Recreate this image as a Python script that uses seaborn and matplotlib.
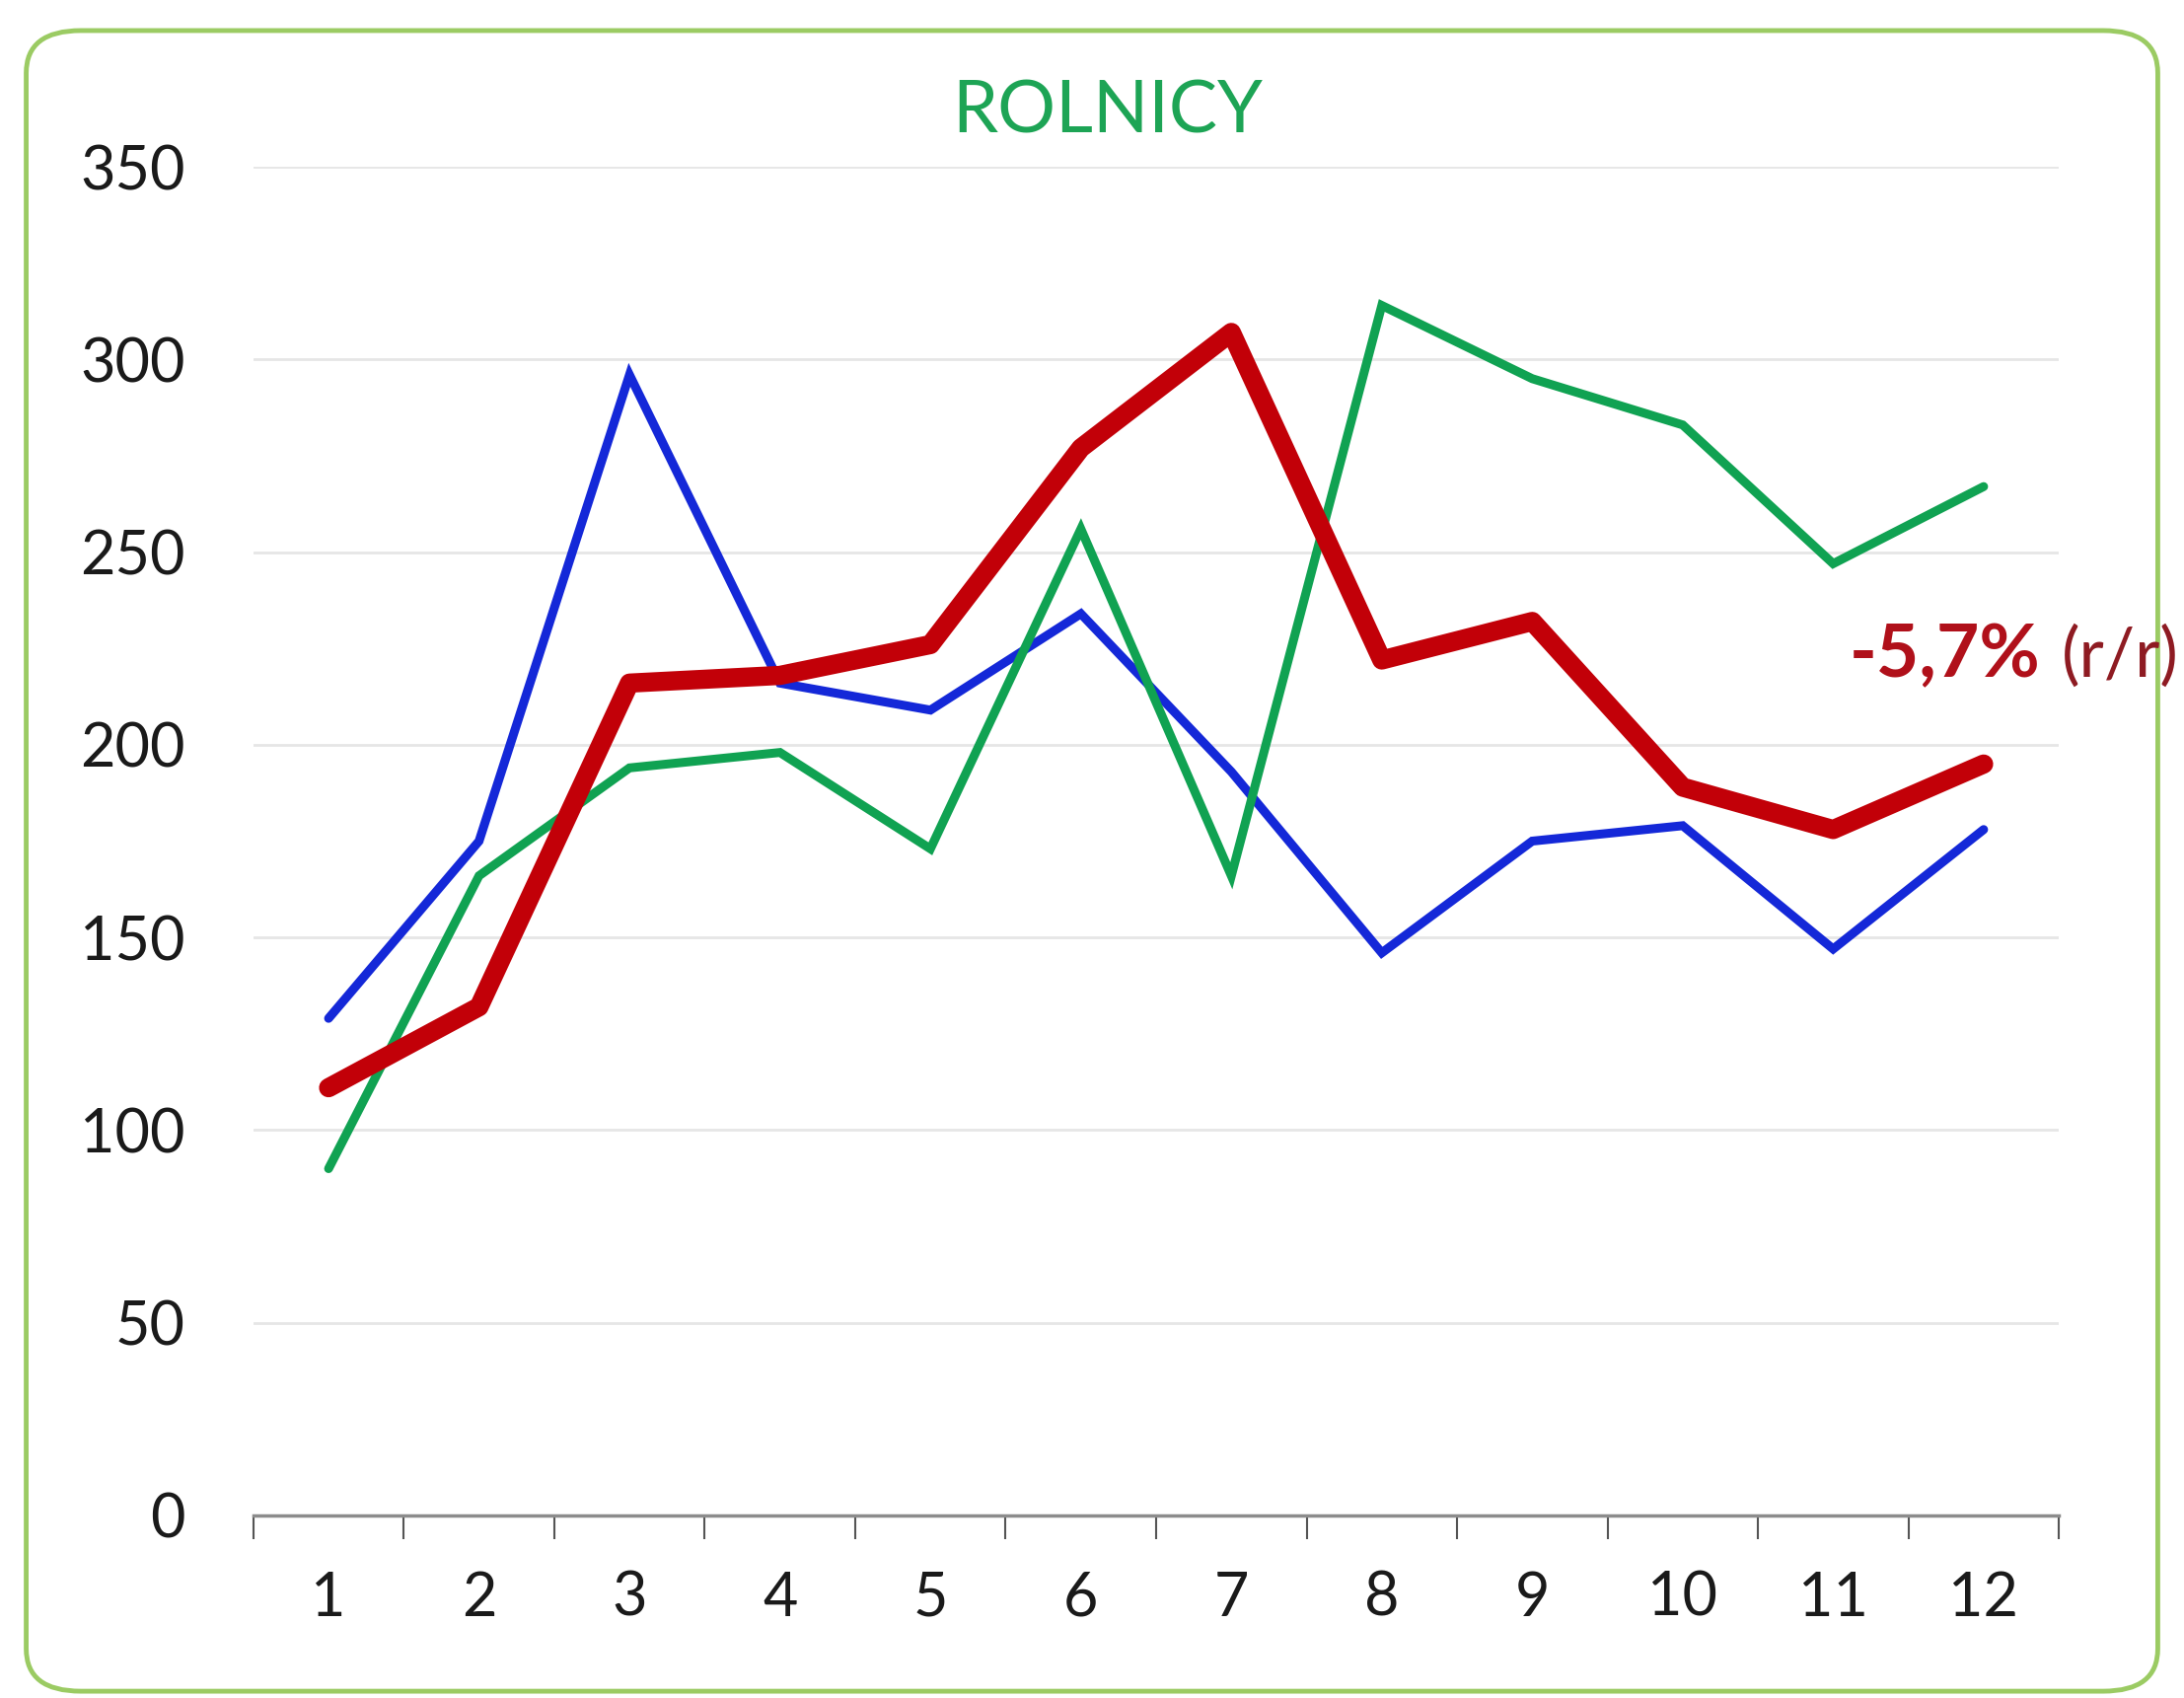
import matplotlib
matplotlib.use("Agg")
import matplotlib.pyplot as plt
from matplotlib.patches import FancyBboxPatch
from matplotlib.ticker import FixedLocator, NullFormatter
import seaborn as sns
import pandas as pd

months = [1, 2, 3, 4, 5, 6, 7, 8, 9, 10, 11, 12]
blue_vals = [129, 175, 296, 216, 209, 234, 193, 146, 175, 179, 147, 178]
green_vals = [90, 166, 194, 198, 173, 256, 166, 314, 295, 283, 247, 267]
red_vals = [111, 132, 216, 218, 226, 277, 307, 222, 232, 189, 178, 195]
title = "ROLNICY"
change_label = "-5,7%"
change_suffix = "(r/r)"
y_ticks = [0, 50, 100, 150, 200, 250, 300, 350]

sns.set_theme(style="white")
plt.rcParams['font.family'] = ['Lato', 'DejaVu Sans']

fig = plt.figure(figsize=(22.14, 17.21), dpi=100)
fig.patch.set_facecolor("white")

# rounded green frame
frame = FancyBboxPatch((0.012, 0.004), 0.976, 0.978,
                       boxstyle="round,pad=0,rounding_size=0.025",
                       transform=fig.transFigure, facecolor="none",
                       edgecolor="#9BCB63", linewidth=3.5, zorder=0)
fig.patches.append(frame)

ax = fig.add_axes([0.116, 0.1075, 0.8267, 0.7943])
ax.set_facecolor("none")
ax.set_zorder(2)

df_b = pd.DataFrame({"m": months, "v": blue_vals})
df_g = pd.DataFrame({"m": months, "v": green_vals})
df_r = pd.DataFrame({"m": months, "v": red_vals})

sns.lineplot(data=df_b, x="m", y="v", ax=ax, color="#1428D8", linewidth=6.5,
             solid_joinstyle="miter", zorder=3)
sns.lineplot(data=df_g, x="m", y="v", ax=ax, color="#10A252", linewidth=6.5,
             solid_joinstyle="miter", zorder=4)
sns.lineplot(data=df_r, x="m", y="v", ax=ax, color="#C20008", linewidth=14,
             solid_joinstyle="round", solid_capstyle="round", zorder=5)

ax.set_xlim(0.5, 12.5)
ax.set_ylim(0, 350)
ax.set_yticks(y_ticks)
ax.set_xticks(months)
ax.set_xticklabels([str(m) for m in months])
ax.xaxis.set_minor_locator(FixedLocator([m + 0.5 for m in [0] + months]))
ax.xaxis.set_minor_formatter(NullFormatter())
ax.tick_params(axis="x", which="major", length=0, pad=40, labelsize=44, labelcolor="#1a1a1a")
ax.tick_params(axis="x", which="minor", length=17, width=1.5, color="#555555", direction="out", bottom=True)
ax.tick_params(axis="y", length=0, pad=50, labelsize=44, labelcolor="#1a1a1a")

ax.grid(axis="y", color="#E6E6E6", linewidth=2)
ax.grid(axis="x", visible=False)
for s in ["left", "right", "top"]:
    ax.spines[s].set_visible(False)
ax.spines["bottom"].set_color("#8C8C8C")
ax.spines["bottom"].set_linewidth(2.5)
ax.spines["bottom"].set_zorder(6)
ax.set_xlabel("")
ax.set_ylabel("")

fig.text(0.507, 0.934, title, color="#1DA455", fontsize=53, ha="center", va="center")

ax.text(11.11, 223, change_label, color="#B0101A", fontsize=54, fontweight="bold",
        ha="left", va="center", clip_on=False)
ax.text(12.52, 223, change_suffix, color="#8E1B22", fontsize=50,
        ha="left", va="center", clip_on=False)

fig.savefig("out.png", dpi=100, facecolor="white")
